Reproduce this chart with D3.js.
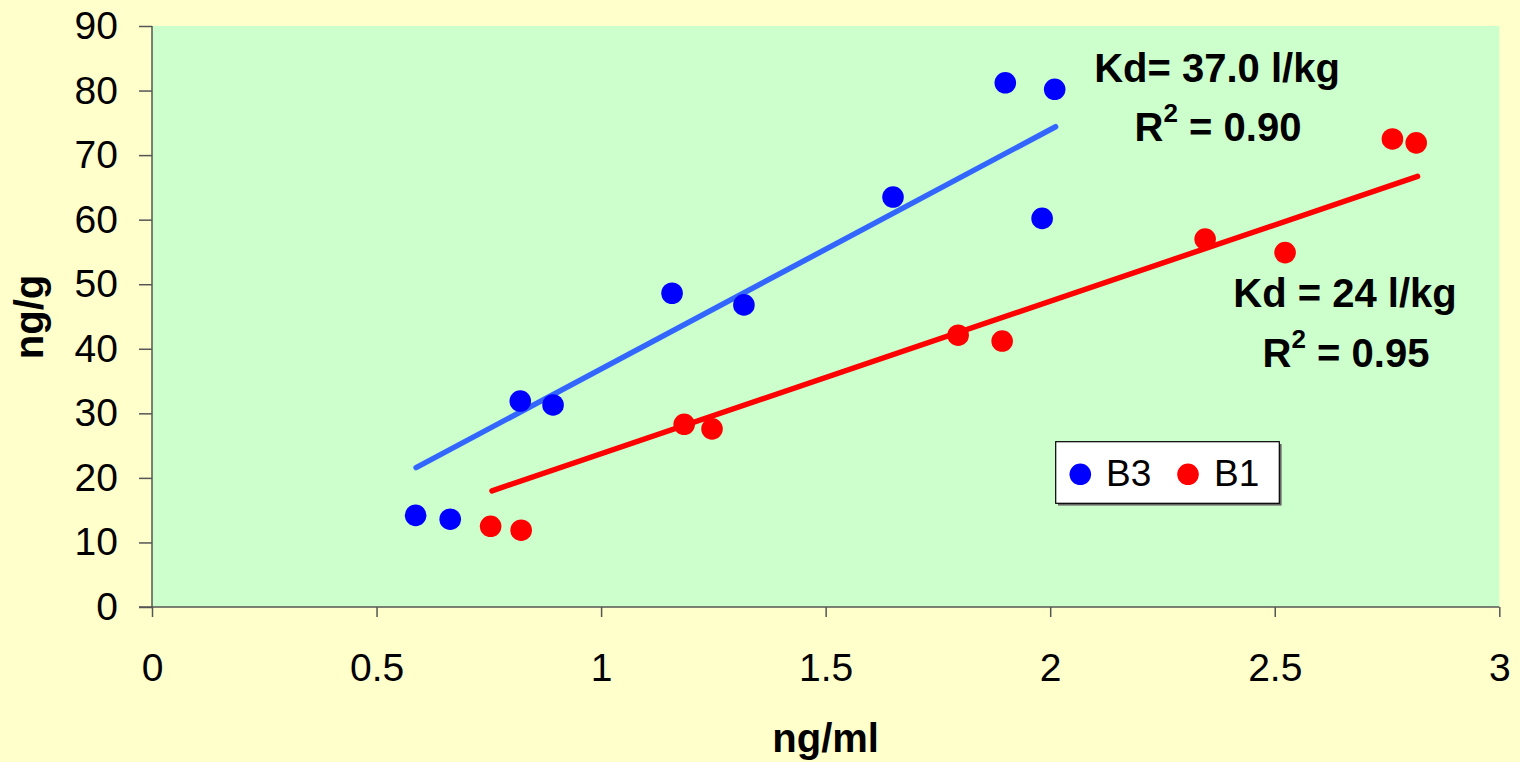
<!DOCTYPE html>
<html>
<head>
<meta charset="utf-8">
<script src="https://cdn.jsdelivr.net/npm/d3@7"></script>
<style>
  html, body { margin: 0; padding: 0; background: #FFFFCC; }
  svg { display: block; }
  text { font-family: "Liberation Sans", Arial, sans-serif; }
</style>
</head>
<body>
<svg id="chart" width="1520" height="762"></svg>
<script>
// ---- data ----
const xTicks = [0, 0.5, 1, 1.5, 2, 2.5, 3];
const xTickLabels = ["0", "0.5", "1", "1.5", "2", "2.5", "3"];
const yTicks = [0, 10, 20, 30, 40, 50, 60, 70, 80, 90];
const yTickLabels = ["0", "10", "20", "30", "40", "50", "60", "70", "80", "90"];

const b3X = [0.587, 0.664, 0.820, 0.893, 1.158, 1.318, 1.650, 1.900, 2.010, 1.982];
const b3Y = [14.2, 13.6, 31.9, 31.3, 48.6, 46.8, 63.5, 81.2, 80.2, 60.2];
const b1X = [0.754, 0.822, 1.185, 1.247, 1.795, 1.893, 2.345, 2.523, 2.762, 2.815];
const b1Y = [12.5, 11.9, 28.3, 27.6, 42.1, 41.2, 57.0, 54.9, 72.5, 71.9];

const b3TrendX = [0.588, 2.012];
const b3TrendY = [21.6, 74.4];
const b1TrendX = [0.757, 2.818];
const b1TrendY = [18.0, 66.7];

const seriesNames = ["B3", "B1"];

// ---- layout ----
const svg = d3.select("#chart");
const pL = 152, pR = 1499.3, pT = 26, pB = 607;
const x = d3.scaleLinear().domain([0, 3]).range([pL, pR]);
const y = d3.scaleLinear().domain([0, 90]).range([pB, pT]);

svg.append("rect").attr("x", 0).attr("y", 0).attr("width", 1520).attr("height", 762).attr("fill", "#FFFFCC");
svg.append("rect").attr("x", pL).attr("y", pT).attr("width", pR - pL).attr("height", pB - pT).attr("fill", "#CCFFCC");

// axes
const axisColor = "#555555";
const yAxis = d3.axisLeft(y).tickValues(yTicks).tickFormat((d, i) => yTickLabels[i]).tickSize(13).tickPadding(21);
const gy = svg.append("g").attr("transform", `translate(${pL},0)`).call(yAxis);
const xAxis = d3.axisBottom(x).tickValues(xTicks).tickFormat((d, i) => xTickLabels[i]).tickSize(10).tickPadding(36);
const gx = svg.append("g").attr("transform", `translate(0,${pB})`).call(xAxis);
[gx, gy].forEach(g => {
  g.select(".domain").attr("stroke", axisColor).attr("stroke-width", 1.5);
  g.selectAll(".tick line").attr("stroke", axisColor).attr("stroke-width", 1.5);
  g.selectAll(".tick text").attr("fill", "#000").style("font-size", "39px")
    .style("font-family", '"Liberation Sans", Arial, sans-serif');
});
gy.select(".domain").attr("d", `M0,${pB}V${pT}`);
gx.select(".domain").attr("d", `M${pL - 13},0H${pR}`);

// axis titles
svg.append("text").attr("x", (pL + pR) / 2).attr("y", 752).attr("text-anchor", "middle")
  .style("font-size", "40px").style("font-weight", "bold").text("ng/ml");
svg.append("text").attr("transform", "translate(43,317) rotate(-90)").attr("text-anchor", "middle")
  .style("font-size", "40px").style("font-weight", "bold").text("ng/g");

// trend lines
const line = d3.line().x(d => x(d[0])).y(d => y(d[1]));
svg.append("path").datum(b3TrendX.map((v, i) => [v, b3TrendY[i]])).attr("d", line)
  .attr("fill", "none").attr("stroke", "#3366FF").attr("stroke-width", 5.5).attr("stroke-linecap", "round");
svg.append("path").datum(b1TrendX.map((v, i) => [v, b1TrendY[i]])).attr("d", line)
  .attr("fill", "none").attr("stroke", "#FF0000").attr("stroke-width", 5.5).attr("stroke-linecap", "round");

// points
const r = 10.8;
svg.append("g").selectAll("circle").data(b3X.map((v, i) => [v, b3Y[i]])).join("circle")
  .attr("cx", d => x(d[0])).attr("cy", d => y(d[1])).attr("r", r).attr("fill", "#0000FF");
svg.append("g").selectAll("circle").data(b1X.map((v, i) => [v, b1Y[i]])).join("circle")
  .attr("cx", d => x(d[0])).attr("cy", d => y(d[1])).attr("r", r).attr("fill", "#FF0000");

// annotations
function annot(cx, yBase, main) {
  svg.append("text").attr("x", cx).attr("y", yBase).attr("text-anchor", "middle")
    .style("font-size", "40px").style("font-weight", "bold").text(main);
}
function r2(cx, yBase, val) {
  const t = svg.append("text").attr("x", cx).attr("y", yBase).attr("text-anchor", "middle")
    .style("font-size", "40px").style("font-weight", "bold");
  t.append("tspan").text("R");
  t.append("tspan").attr("dy", -19).style("font-size", "26px").text("2");
  t.append("tspan").attr("dy", 19).text(" = " + val);
}
annot(1217, 82, "Kd= 37.0 l/kg");
r2(1218, 141, "0.90");
annot(1345, 307, "Kd = 24 l/kg");
r2(1346, 367, "0.95");

// legend
const lg = svg.append("g");
lg.append("rect").attr("x", 1058).attr("y", 444).attr("width", 223.6).attr("height", 61.6).attr("fill", "#666");
lg.append("rect").attr("x", 1055.7).attr("y", 441.7).attr("width", 223.6).attr("height", 61.6)
  .attr("fill", "#FFFFFF").attr("stroke", "#000").attr("stroke-width", 1.2);
lg.append("circle").attr("cx", 1080.3).attr("cy", 474.3).attr("r", r).attr("fill", "#0000FF");
lg.append("text").attr("x", 1106).attr("y", 485.5).style("font-size", "37px").text(seriesNames[0]);
lg.append("circle").attr("cx", 1188).attr("cy", 474.3).attr("r", r).attr("fill", "#FF0000");
lg.append("text").attr("x", 1214).attr("y", 485.5).style("font-size", "37px").text(seriesNames[1]);
</script>
</body>
</html>
